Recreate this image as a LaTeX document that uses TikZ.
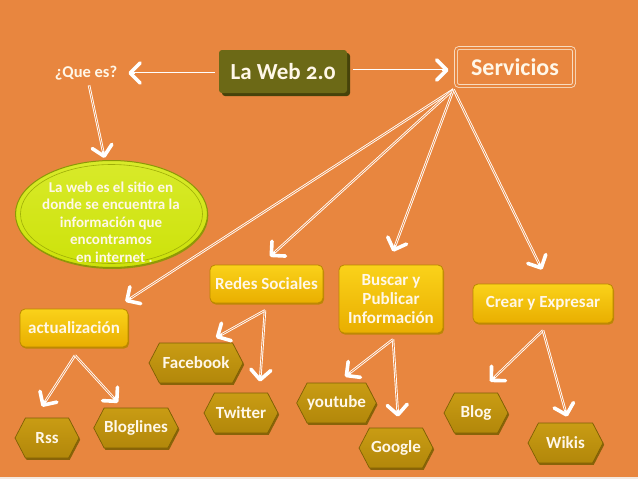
\documentclass[tikz,border=0pt]{standalone}
\usepackage{fontspec}
\setmainfont{Carlito}[Numbers=OldStyle]
\usetikzlibrary{shapes.symbols,shapes.geometric,arrows.meta,shadows,calc}
\definecolor{bg}{HTML}{E8863F}
\definecolor{strip}{HTML}{F3E9E0}
\definecolor{cream}{HTML}{FFF7E8}
\definecolor{olive}{HTML}{6C6916}
\definecolor{olivedark}{HTML}{46430A}
\definecolor{lime}{HTML}{CDE20A}
\definecolor{limetop}{HTML}{D8EA2A}
\definecolor{limedark}{HTML}{8C9806}
\definecolor{ytop}{HTML}{FAD21A}
\definecolor{ybot}{HTML}{E9AE00}
\definecolor{ydark}{HTML}{B98700}
\definecolor{htop}{HTML}{C99C14}
\definecolor{hbot}{HTML}{B2870A}
\definecolor{hdark}{HTML}{7F6004}
\definecolor{svline}{HTML}{F8DCC0}
\begin{document}
\begin{tikzpicture}[x=1pt,y=-1pt,
  lbl/.style={text=cream,font=\bfseries\fontsize{17}{19}\selectfont,align=center},
  ybox/.style={lbl,rectangle,rounded corners=5pt,draw=ydark,line width=0.8pt,
    top color=ytop,bottom color=ybot,inner sep=2pt,
    drop shadow={shadow xshift=1pt,shadow yshift=-1.6pt,fill=ydark,opacity=0.9}},
  hexa/.style={lbl,signal,signal to=west and east,signal pointer angle=125,
    draw=hdark,line width=0.7pt,top color=htop,bottom color=hbot,inner sep=0pt,
    minimum height=40pt,
    drop shadow={shadow xshift=1.2pt,shadow yshift=-1.8pt,fill=hdark,opacity=0.9}},
  arr/.style={draw=white,line width=2.5pt,
    -{Straight Barb[length=10pt,width=20pt,line width=3.6pt,round]},
    postaction={draw=bg,line width=0.7pt,-,shorten >=7pt}}
]
\useasboundingbox (0,0) rectangle (638,479);
\fill[bg] (0,0) rectangle (638,479);
\fill[strip] (0,477) rectangle (638,479);

% main nodes
\node[rectangle,rounded corners=3pt,fill=olive,minimum width=128pt,minimum height=43pt,
  text=cream,font=\bfseries\fontsize{23}{26}\selectfont,
  drop shadow={shadow xshift=3pt,shadow yshift=-3pt,fill=olivedark,opacity=1}]
  (laweb) at (283,71.5) {La Web 2.0};
\node[text=cream,font=\bfseries\fontsize{16.5}{19}\selectfont,inner sep=3pt]
  (quees) at (86,73) {¿Que es?};
\node[rectangle,rounded corners=3pt,draw=svline,line width=0.9pt,double=bg,double distance=2pt,
  minimum width=118pt,minimum height=38pt,text=cream,font=\bfseries\fontsize{24}{28}\selectfont]
  (servicios) at (515,67) {Servicios};
\node[ellipse,draw=limedark,line width=1pt,top color=limetop,bottom color=lime,
  minimum width=192pt,minimum height=107pt,
  drop shadow={shadow xshift=0.8pt,shadow yshift=-1.5pt,fill=limedark,opacity=0.9}]
  (ellipse) at (111.5,214) {};
\draw[limedark!70!lime,line width=0.6pt] (ellipse.center) ellipse [x radius=91pt,y radius=49.5pt];
\node[text=cream,font=\bfseries\fontsize{15}{17.5}\selectfont,align=center]
  (etext) at (111,222) {La web es el sitio en\\donde se encuentra la\\información que\\encontramos\\\ \ en internet .};

% category boxes
\node[ybox,minimum width=113pt,minimum height=38pt] (redes) at (266.5,284) {Redes Sociales};
\node[ybox,minimum width=104pt,minimum height=68pt] (buscar) at (391,299) {Buscar y\\Publicar\\Información};
\node[ybox,minimum width=140pt,minimum height=39pt] (crear) at (543,303.5) {Crear y Expresar};
\node[ybox,minimum width=108pt,minimum height=38pt] (actualizacion) at (74,328) {actualización};

% hexagons
\node[hexa,minimum width=94pt] (facebook) at (196,363) {Facebook};
\node[hexa,minimum width=74pt] (twitter) at (241,413) {Twitter};
\node[hexa,minimum width=64pt] (rss) at (47,438) {Rss};
\node[hexa,minimum width=84pt] (bloglines) at (136,428) {Bloglines};
\node[hexa,minimum width=73pt] (youtube) at (336.5,403) {youtube};
\node[hexa,minimum width=74pt] (google) at (396,448) {Google};
\node[hexa,minimum width=64pt] (blog) at (476,413) {Blog};
\node[hexa,minimum width=75pt] (wikis) at (565.5,443) {Wikis};

% connectors
\draw[arr] ($(laweb.west)+(-4,1.5)$) -- ($(quees.east)+(8,0)$);
\draw[arr] ($(quees.south)+(3,2)$) -- ($(ellipse.north)+(-7,-2)$);
\draw[arr] ($(laweb.east)+(6,-1.5)$) -- ($(servicios.west)+(-7,3)$);

\coordinate (sv) at ($(servicios.south west)+(-2,3)$);
\draw[arr] (sv) -- ($(actualizacion.north east)+(-3,-7)$);
\draw[arr] (sv) -- ($(redes.north)+(3.5,-8)$);
\draw[arr] (sv) -- ($(buscar.north)+(2,-13)$);
\draw[arr] (sv) -- ($(crear.north)+(-1,-14)$);

\draw[arr] ($(actualizacion.south)+(1,8)$) -- ($(rss.north)+(-5,-11)$);
\draw[arr] ($(actualizacion.south)+(1,8)$) -- ($(bloglines.north)+(-18,-5)$);
\draw[arr] ($(redes.south)+(-1.5,7)$) -- ($(facebook.north)+(20,-5)$);
\draw[arr] ($(redes.south)+(-1.5,7)$) -- ($(twitter.north)+(19,-11)$);
\draw[arr] ($(buscar.south)+(2,6)$) -- ($(youtube.north)+(8.5,-6)$);
\draw[arr] ($(buscar.south)+(2,6)$) -- ($(google.north)+(2,-11)$);
\draw[arr] ($(crear.south)+(0,7)$) -- ($(blog.north)+(14,-11)$);
\draw[arr] ($(crear.south)+(0,7)$) -- ($(wikis.north)+(1.5,-6)$);
\end{tikzpicture}
\end{document}
